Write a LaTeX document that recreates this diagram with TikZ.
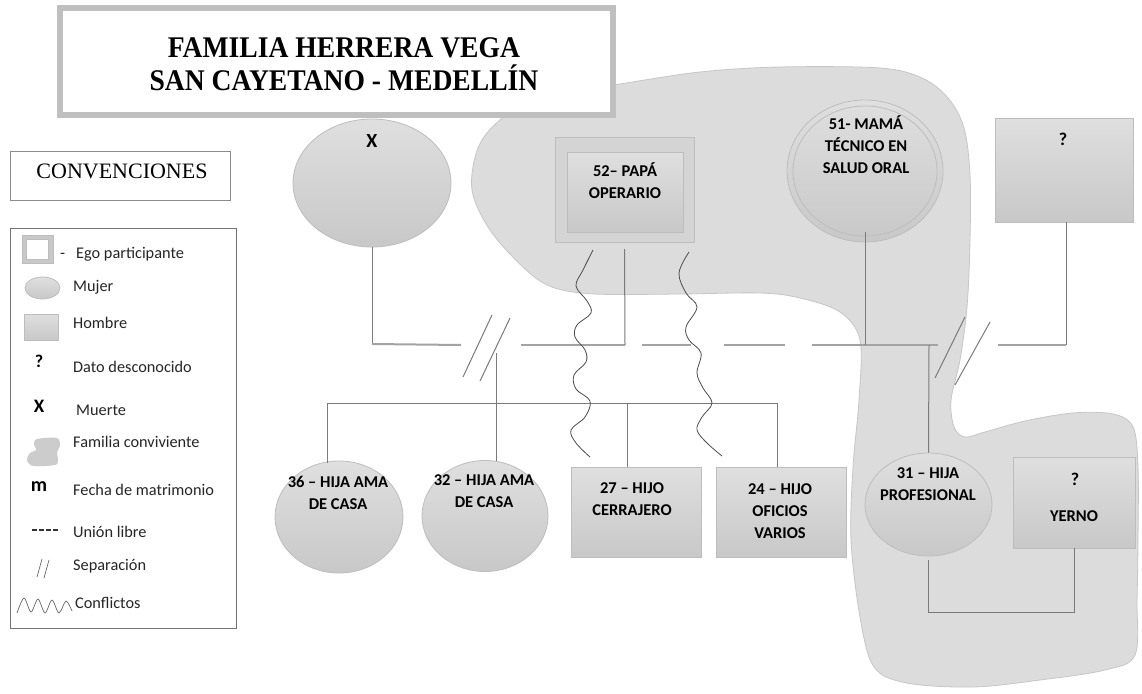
\documentclass[tikz,border=0pt]{standalone}
\usepackage{fontspec}
\setmainfont{Liberation Serif}
\newfontfamily\calfont{Carlito}
\newfontfamily\titlefont[FakeStretch=0.92]{Liberation Serif}
\usetikzlibrary{shapes.geometric}

\definecolor{linec}{HTML}{7A7A7A}
\definecolor{dashc}{HTML}{A3A3A3}
\definecolor{shapeb}{HTML}{BDBDBD}
\definecolor{blobc}{HTML}{DCDCDC}
\definecolor{blobb}{HTML}{C6C6C6}
\definecolor{topc}{HTML}{DFDFDF}
\definecolor{botc}{HTML}{C8C8C8}
\definecolor{titleb}{HTML}{BFBFBF}

\tikzset{
  woman/.style={ellipse, draw=shapeb, top color=topc, bottom color=botc, inner sep=0pt, line width=0.8pt},
  man/.style={rectangle, draw=shapeb, top color=topc, bottom color=botc, inner sep=0pt, line width=0.8pt},
  txt/.style={font=\calfont\bfseries\fontsize{16.5}{22}\selectfont, align=center, text=black, inner sep=0pt},
  bigsym/.style={font=\calfont\bfseries\fontsize{20}{24}\selectfont, text=black, inner sep=0pt},
  leg/.style={font=\calfont\fontsize{16.3}{18}\selectfont, anchor=west, inner sep=0pt, text=black!85},
  rel/.style={draw=linec, line width=1pt},
  dashseg/.style={draw=dashc, line width=2pt},
  conflict/.style={draw=black!70, line width=0.8pt},
  blob/.style={fill=blobc, draw=blobb, line width=0.8pt}
}

\begin{document}
\begin{tikzpicture}[x=1pt,y=-1pt]
\useasboundingbox (0,0) rectangle (1142,693);
\fill[white] (0,0) rectangle (1142,693);

% family living together
\path[blob] plot[smooth cycle, tension=0.55] coordinates {
 (472,190) (478,148) (500,120) (540,97) (620,84) (700,72) (780,67) (880,68)
 (922,78) (948,98) (964,128) (970,175) (970,240) (967,307) (960,360) (951,400)
 (954,427) (965,437) (985,432) (1025,421) (1073,413) (1113,414) (1133,427)
 (1138,467) (1138,540) (1137,600) (1135,655) (1105,670) (1040,680) (973,687)
 (907,683) (874,667) (860,617) (851,540) (853,467) (859,400) (860,340)
 (840,312) (800,298) (760,293) (680,294) (595,294) (552,287) (524,268) (490,230)};

% title
\node[draw=titleb, line width=6pt, fill=white, minimum width=553pt, minimum height=107pt, inner sep=0pt] (title) at (336.5,61.5) {};
\node[font=\titlefont\bfseries\fontsize{30}{33}\selectfont, align=center, inner sep=0pt] (titletxt) at (344,64) {FAMILIA HERRERA VEGA\\SAN CAYETANO - MEDELLÍN};

% conventions
\node[draw=black!45, line width=0.6pt, minimum width=220pt, minimum height=49pt, inner sep=0pt] (convbox) at (120,175.5) {};
\node[font=\fontsize{22}{24}\selectfont, inner sep=0pt] (convtxt) at (122,171) {CONVENCIONES};

\node[draw=black!55, line width=0.6pt, minimum width=226pt, minimum height=400pt, inner sep=0pt] (legbox) at (123,428) {};
% legend items
\node[rectangle, draw=shapeb, fill=botc, minimum width=31pt, minimum height=28pt, inner sep=0pt] (lego) at (37.5,249) {};
\node[rectangle, draw=shapeb, fill=white, minimum width=22pt, minimum height=20pt, inner sep=0pt] at (37.5,249) {};
\node[leg, anchor=base west] (lt1) at (60,258) {-\hspace{11pt}Ego participante};
\node[woman, minimum width=35pt, minimum height=22pt] (legm) at (42.5,288) {};
\node[leg] (lt2) at (73,287) {Mujer};
\node[man, minimum width=34pt, minimum height=26pt] (legh) at (41,327) {};
\node[leg] (lt3) at (73,323) {Hombre};
\node[bigsym, font=\calfont\bfseries\fontsize{18}{20}\selectfont] (legq) at (39,361) {?};
\node[leg] (lt4) at (73,367) {Dato desconocido};
\node[bigsym, font=\calfont\bfseries\fontsize{19}{20}\selectfont] (legx) at (39,406) {X};
\node[leg] (lt5) at (76,410) {Muerte};
\path[blob, draw=none, fill=black!20] plot[smooth cycle, tension=0.5] coordinates {
 (37,439) (57,438) (60,446) (57,452) (58,460) (55,465) (33,466) (27,460) (30,453) (36,450) (34,444)};
\node[leg] (lt6) at (73,442) {Familia conviviente};
\node[bigsym, font=\calfont\bfseries\fontsize{20}{20}\selectfont] (legmm) at (39,487) {m};
\node[leg] (lt7) at (73,490) {Fecha de matrimonio};
\draw[black!80, line width=1.3pt, dash pattern=on 5pt off 2pt] (32,530) -- (60,530);
\node[leg] (lt8) at (73,532) {Unión libre};
\draw[black!60, line width=0.7pt] (37,577) -- (42,559) (44,578) -- (49,560);
\node[leg] (lt9) at (73,566) {Separación};
\draw[black!60, line width=0.7pt] plot[smooth, tension=0.5] coordinates {
 (17,613) (24,598) (31,612) (38,599) (45,613) (52,600) (59,613) (66,601) (72,611)};
\node[leg] (lt10) at (75,603) {Conflictos};

% persons
\node[woman, minimum width=158pt, minimum height=128pt] (abuela) at (372,183) {};
\node[bigsym] at (372,141) {X};

\node[rectangle, draw=shapeb, fill=black!17, minimum width=139pt, minimum height=105pt, inner sep=0pt] (papaout) at (624.5,189.5) {};
\node[man, minimum width=116pt, minimum height=80pt] (papa) at (625,192) {};
\node[txt] at (625,181) {52– PAPÁ\\OPERARIO};

\node[woman, minimum width=156pt, minimum height=142pt] (mama) at (865,171) {};
\node[ellipse, draw=shapeb, line width=0.8pt, minimum width=144pt, minimum height=130pt] at (865,171) {};
\node[txt] at (866,145) {51- MAMÁ\\TÉCNICO EN\\SALUD ORAL};

\node[man, minimum width=138pt, minimum height=104pt] (otro) at (1064,170) {};
\node[bigsym, font=\calfont\bfseries\fontsize{18}{20}\selectfont] at (1063,139) {?};

\node[woman, minimum width=128pt, minimum height=112pt] (h36) at (339,517) {};
\node[txt] at (338,493) {36 – HIJA AMA\\DE CASA};
\node[woman, minimum width=126pt, minimum height=111pt] (h32) at (485,516) {};
\node[txt] at (484,491) {32 – HIJA AMA\\DE CASA};
\node[man, minimum width=130pt, minimum height=90pt] (h27) at (636,512) {};
\node[txt] at (632,499) {27 – HIJO\\CERRAJERO};
\node[man, minimum width=130pt, minimum height=90pt] (h24) at (781,512) {};
\node[txt] at (780,511) {24 – HIJO\\OFICIOS\\VARIOS};
\node[woman, minimum width=127pt, minimum height=103pt] (h31) at (928.5,504.5) {};
\node[txt] at (928,484) {31 – HIJA\\PROFESIONAL};
\node[man, minimum width=122pt, minimum height=91pt] (yerno) at (1074,502.5) {};
\node[bigsym, font=\calfont\bfseries\fontsize{18}{20}\selectfont] at (1075,479) {?};
\node[txt] at (1074,516) {YERNO};

% couple lines
\coordinate (j1) at (372,344);
\coordinate (s1) at (461,345);
\draw[rel] (abuela.south) -- (j1);
\draw[dashseg] (j1) -- (s1);
\draw[rel] (463,377) -- (492,315) (480,381) -- (510,318);
\coordinate (pj) at (625,345);
\draw[dashseg] (521,345) -- (pj);
\draw[rel] (papaout.south) ++(0,7) -- (pj);
\draw[dashseg] (642,345) -- (691,345);
\draw[dashseg] (724,345) -- (785,345);
\coordinate (mj) at (865,345);
\coordinate (cj) at (929,345);
\draw[dashseg] (812,345) -- (mj) -- (938,345);
\draw[rel] (mama.south) ++(0,-10) -- (mj);
\draw[rel] (935,378) -- (965,317) (955,385) -- (990,322);
\coordinate (oj) at (1066,345);
\draw[dashseg] (998,345) -- (oj);
\draw[rel] (otro.south) ++(2,0) -- (oj);
\draw[rel] (cj) -- (h31.north);

% children
\coordinate (bl) at (327,403);
\coordinate (br) at (777,403);
\draw[rel] (bl) -- (br);
\draw[rel] (496,353) -- (496,461);
\draw[rel] (bl) -- (327,463);
\draw[rel] (627,403) -- (627,467);
\draw[rel] (br) -- (777,467);

% marriage of 31
\draw[rel] (h31.south) ++(0,4) |- (1074,612) -- (yerno.south);

% conflicts
\draw[conflict] plot[smooth, tension=0.6] coordinates {
 (593,250) (583,270) (576,286) (587,301) (591,313) (577,325) (575,337) (585,350)
 (586,362) (574,375) (576,389) (590,401) (585,417) (571,430) (576,443) (590,457)};
\draw[conflict] plot[smooth, tension=0.6] coordinates {
 (689,252) (679,273) (686,293) (697,307) (686,327) (689,340) (701,353) (697,373)
 (703,388) (712,403) (702,417) (697,430) (707,443) (722,456)};
\end{tikzpicture}
\end{document}
